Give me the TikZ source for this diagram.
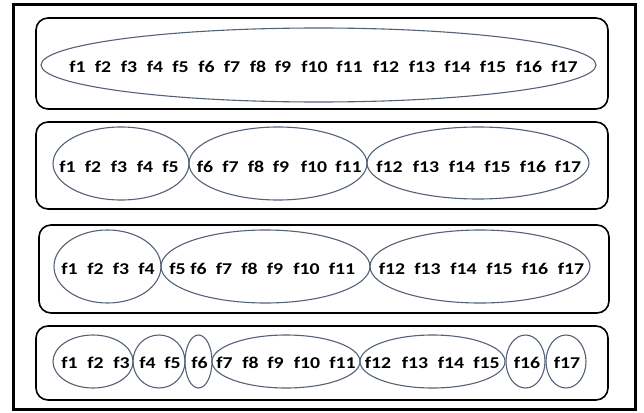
\documentclass[tikz,border=0pt]{standalone}
\usepackage{fontspec}
\setmainfont{Carlito}[FakeStretch=1.2]
\usetikzlibrary{shapes.geometric}
\definecolor{ellcol}{RGB}{84,98,120}
\tikzset{
  lab/.style={anchor=base, inner sep=0pt, font=\fontsize{16.5}{18}\selectfont\bfseries},
  grp/.style={ellipse, draw=ellcol, line width=1.1pt, inner sep=0pt},
  rowbox/.style={rectangle, draw=black, line width=1.6pt, rounded corners=12pt, inner sep=0pt},
}
\begin{document}
\begin{tikzpicture}[x=1pt,y=-1pt]
\useasboundingbox (0,0) rectangle (644,412);
\node[draw=black, line width=3pt, minimum width=622pt, minimum height=404pt, inner sep=0pt] (frame) at (324,207) {};
% row boxes
\node[rowbox, minimum width=572pt, minimum height=91pt] (row1) at (322,63.5) {};
\node[rowbox, minimum width=572pt, minimum height=87pt] (row2) at (322,165.5) {};
\node[rowbox, minimum width=570pt, minimum height=88pt] (row3) at (324,269) {};
\node[rowbox, minimum width=572pt, minimum height=74pt] (row4) at (322,363) {};
% row 1 ellipse
\node[grp, minimum width=555pt, minimum height=74pt] (r1a) at (318.5,65) {};
% row 2 ellipses
\node[grp, minimum width=136pt, minimum height=73pt] (r2a) at (121,163.5) {};
\node[grp, minimum width=178pt, minimum height=73pt] (r2b) at (278,163.5) {};
\node[grp, minimum width=222pt, minimum height=72pt] (r2c) at (478,163) {};
% row 3 ellipses
\node[grp, minimum width=107pt, minimum height=73pt] (r3a) at (107.5,266.5) {};
\node[grp, minimum width=209pt, minimum height=73pt] (r3b) at (265.5,266.5) {};
\node[grp, minimum width=220pt, minimum height=73pt] (r3c) at (480,266.5) {};
% row 4 ellipses
\node[grp, minimum width=80pt, minimum height=53pt] (r4a) at (93,361.5) {};
\node[grp, minimum width=52pt, minimum height=53pt] (r4b) at (159,361.5) {};
\node[grp, minimum width=27pt, minimum height=53pt] (r4c) at (198.5,361.5) {};
\node[grp, minimum width=148pt, minimum height=53pt] (r4d) at (286,361.5) {};
\node[grp, minimum width=145pt, minimum height=53pt] (r4e) at (432.5,361.5) {};
\node[grp, minimum width=39pt, minimum height=53pt] (r4f) at (525.5,361.5) {};
\node[grp, minimum width=40pt, minimum height=53pt] (r4g) at (566,361.5) {};
% labels
\foreach \x [count=\i] in {77.5,103,129,155,180.5,206.5,232,258,283,314.5,349.5,386,422,457.5,493,529,564.5}
  \node[lab] (l1-\i) at (\x,72) {f\i};
\foreach \x [count=\i] in {67.5,93,119,145,170.5,205,230.5,256,281,314,348.5,389.5,426,462,497.5,533,568}
  \node[lab] (l2-\i) at (\x,172) {f\i};
\foreach \x [count=\i] in {69.5,95.5,121,146.5,177.5,198.5,224,249.5,275,306.5,342,392,427.5,463.5,499.5,535,571}
  \node[lab] (l3-\i) at (\x,274.5) {f\i};
\foreach \x [count=\i] in {69.5,95.5,121.5,147.5,172.5,199.5,224.5,250.5,275.5,307,342.5,378,415,451,486.5,527,567}
  \node[lab] (l4-\i) at (\x,368) {f\i};
\end{tikzpicture}
\end{document}
